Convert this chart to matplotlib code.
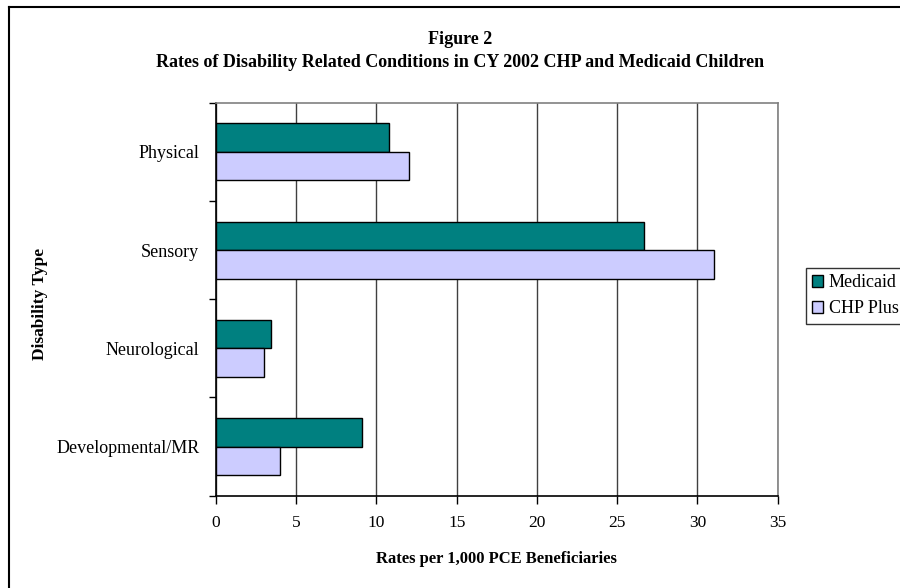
import matplotlib
matplotlib.use("Agg")
import matplotlib.pyplot as plt
from matplotlib.lines import Line2D
import numpy as np

plt.rcParams['font.family'] = ['Liberation Serif', 'DejaVu Serif']

# bottom to top on the chart
categories = ["Developmental/MR", "Neurological", "Sensory", "Physical"]
medicaid = [9.1, 3.4, 26.7, 10.8]
chp_plus = [4.0, 3.0, 31.0, 12.0]
series_names = ["Medicaid", "CHP Plus"]
x_ticks = [0, 5, 10, 15, 20, 25, 30, 35]

title = "Figure 2\nRates of Disability Related Conditions in CY 2002 CHP and Medicaid Children"

W, H = 900, 588
fig = plt.figure(figsize=(9, 5.88), dpi=100)
ax = fig.add_axes([216 / W, 1 - 495.7 / H, (777.7 - 216) / W, (495.7 - 102.7) / H])

y = np.arange(len(categories))
bh = 0.29
ax.barh(y + bh / 2, medicaid, height=bh, color="#008080", edgecolor="black",
        linewidth=1.0, label=series_names[0], zorder=3)
ax.barh(y - bh / 2, chp_plus, height=bh, color="#CCCCFF", edgecolor="black",
        linewidth=1.0, label=series_names[1], zorder=3)

ax.set_xlim(0, 35)
ax.set_ylim(-0.5, len(categories) - 0.5)
ax.set_xticks(x_ticks)
ax.set_xticklabels([str(t) for t in x_ticks], fontsize=12.5)
ax.xaxis.grid(True, color="#404040", linewidth=1.0, zorder=0)

# category boundaries get tick marks, names sit between them
ax.set_yticks(np.arange(-0.5, len(categories)))
ax.set_yticklabels([])
ax.set_yticks(y, minor=True)
ax.set_yticklabels(categories, minor=True, fontsize=13)
ax.tick_params(axis="y", which="minor", length=0, pad=12)
ax.tick_params(axis="y", which="major", length=5, width=1, direction="out")
ax.tick_params(axis="x", length=6, width=1, direction="out", pad=8)

for side in ("top", "right"):
    ax.spines[side].set_color("#808080")
    ax.spines[side].set_linewidth(1.2)
for side in ("left", "bottom"):
    ax.spines[side].set_color("black")
    ax.spines[side].set_linewidth(1.2)

ax.set_xlabel("Rates per 1,000 PCE Beneficiaries", fontsize=12, fontweight="bold", labelpad=14)
ax.set_ylabel("Disability Type", fontsize=12.5, fontweight="bold")
ax.yaxis.set_label_coords((48 - 216) / (777.7 - 216), 0.487)

fig.text(460 / W, 1 - 51 / H, title, ha="center", va="center", fontsize=13,
         fontweight="bold", linespacing=1.4)

leg = fig.legend(loc="upper left", bbox_to_anchor=(806 / W, 1 - 268 / H),
                 fontsize=13, fancybox=False, shadow=False, frameon=True,
                 handlelength=0.6, handleheight=0.6, handletextpad=0.3,
                 borderpad=0.35, labelspacing=0.5, borderaxespad=0)
leg.get_frame().set_edgecolor("black")
leg.get_frame().set_linewidth(1.0)

# outer frame, left and top edges
fig.add_artist(Line2D([9 / W, 9 / W], [0, 1 - 7 / H], color="black", linewidth=1.5))
fig.add_artist(Line2D([9 / W, 1], [1 - 7 / H, 1 - 7 / H], color="black", linewidth=1.5))

fig.savefig("out.png", dpi=100)
